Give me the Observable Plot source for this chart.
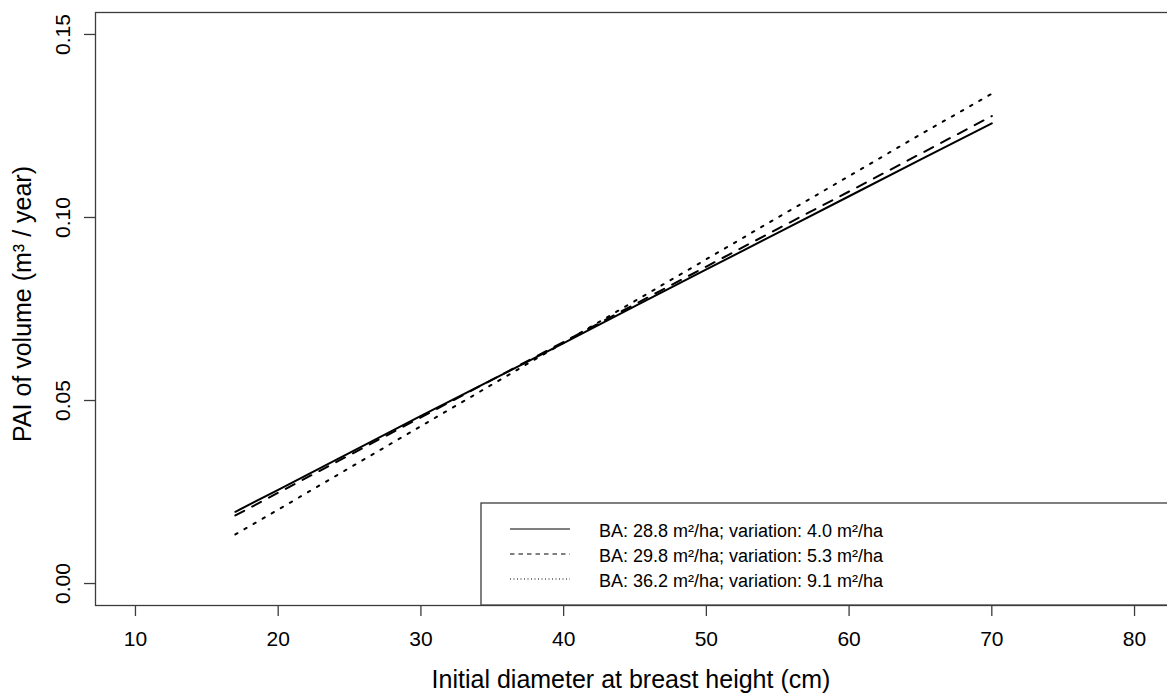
<!DOCTYPE html>
<html>
<head>
<meta charset="utf-8">
<script src="https://cdn.jsdelivr.net/npm/d3@7"></script>
<script src="https://cdn.jsdelivr.net/npm/@observablehq/plot@0.6"></script>
<style>
  html, body { margin: 0; padding: 0; background: #fff; overflow: hidden; }
  #chart { width: 1167px; height: 693px; overflow: hidden; }
  #chart svg { max-width: none !important; display: block; }
</style>
</head>
<body>
<div id="chart"></div>
<script>
// Initial diameter at breast height (cm)
const diameter = [17, 20, 25, 30, 35, 40, 45, 50, 55, 60, 65, 70];
// Periodic annual increment of volume (m³/year) for three stand densities
const paiBA288 = [0.0196, 0.0256, 0.0357, 0.0458, 0.0557, 0.0657, 0.0758, 0.0858, 0.0958, 0.1058, 0.1158, 0.1257];
const paiBA298 = [0.0186, 0.0248, 0.0351, 0.0454, 0.0557, 0.0660, 0.0763, 0.0866, 0.0969, 0.1071, 0.1174, 0.1277];
const paiBA362 = [0.0134, 0.0202, 0.0316, 0.0430, 0.0544, 0.0658, 0.0772, 0.0886, 0.1000, 0.1113, 0.1227, 0.1338];
const seriesLabels = [
  "BA: 28.8 m²/ha; variation: 4.0 m²/ha",
  "BA: 29.8 m²/ha; variation: 5.3 m²/ha",
  "BA: 36.2 m²/ha; variation: 9.1 m²/ha"
];
const xTicks = [10, 20, 30, 40, 50, 60, 70, 80];
const yTicks = [0, 0.05, 0.10, 0.15];
const xTitle = "Initial diameter at breast height (cm)";
const yTitle = "PAI of volume (m³ / year)";

// line style per series: solid, dashed, dotted
const dashes = [null, "10,9", "2.5,8"];
const legendDashes = [null, "4.5,4", "1,2.5"];

const seriesValues = [paiBA288, paiBA298, paiBA362];
const rows = seriesValues.map((vals, s) =>
  diameter.map((d, i) => ({d, pai: vals[i], series: seriesLabels[s]}))
);

const font = "'Liberation Sans', Arial, Helvetica, sans-serif";
const width = 1180, height = 693;
const marginLeft = 95, marginTop = 12, marginBottom = 88, marginRight = 6;

const chart = Plot.plot({
  width, height,
  marginLeft, marginTop, marginBottom, marginRight,
  style: {fontFamily: font, background: "#fff", color: "#000"},
  x: {domain: [7.2, 82.8]},
  y: {domain: [-0.006, 0.156]},
  marks: [
    ...rows.map((r, s) => Plot.line(r, {
      x: "d", y: "pai",
      stroke: "#000", strokeWidth: 2,
      strokeDasharray: dashes[s] ?? undefined
    })),
    Plot.frame({stroke: "#3c3c3c", strokeWidth: 1.3}),
    Plot.axisX(xTicks, {
      tickSize: 11, tickPadding: 15, fontSize: 21,
      stroke: "#3c3c3c", strokeWidth: 1.3, label: null, fill: "#000"
    }),
    Plot.axisY(yTicks, {
      tickSize: 11, stroke: "#3c3c3c", strokeWidth: 1.3,
      tickFormat: () => "", label: null
    }),
    // y tick labels run parallel to the axis
    Plot.text(yTicks, {
      y: d => d, text: d => d.toFixed(2),
      frameAnchor: "left", dx: -32.5, rotate: -90,
      textAnchor: "middle", lineAnchor: "middle",
      fontSize: 21, fill: "#000"
    }),
    Plot.text([xTitle], {
      text: d => d, frameAnchor: "bottom", dy: 74, dx: -4,
      textAnchor: "middle", lineAnchor: "middle", fontSize: 25, fill: "#000"
    }),
    Plot.text([yTitle], {
      text: d => d, frameAnchor: "left", dx: -73, dy: -5,
      rotate: -90, textAnchor: "middle", lineAnchor: "middle",
      fontSize: 25, fill: "#000"
    })
  ]
});

// Legend in the bottom-right corner of the plotting region
const svg = d3.select(chart);
const right = width - marginRight, bottom = height - marginBottom;
const box = {w: 693, h: 102};
const lg = svg.append("g").attr("font-family", font).attr("text-anchor", "start");
lg.append("rect")
  .attr("x", right - box.w).attr("y", bottom - box.h)
  .attr("width", box.w).attr("height", box.h)
  .attr("fill", "#fff").attr("stroke", "#3c3c3c").attr("stroke-width", 1.3);
seriesLabels.forEach((label, i) => {
  const cy = bottom - box.h + 28 + i * 25;
  const x0 = right - box.w;
  lg.append("line")
    .attr("x1", x0 + 29).attr("x2", x0 + 89)
    .attr("y1", cy - 2).attr("y2", cy - 2)
    .attr("stroke", "#000").attr("stroke-width", 1)
    .attr("stroke-dasharray", legendDashes[i]);
  lg.append("text")
    .attr("x", x0 + 118).attr("y", cy)
    .attr("dy", "0.35em")
    .attr("font-size", 18)
    .attr("fill", "#000")
    .text(label);
});

document.getElementById("chart").append(chart);
</script>
</body>
</html>
